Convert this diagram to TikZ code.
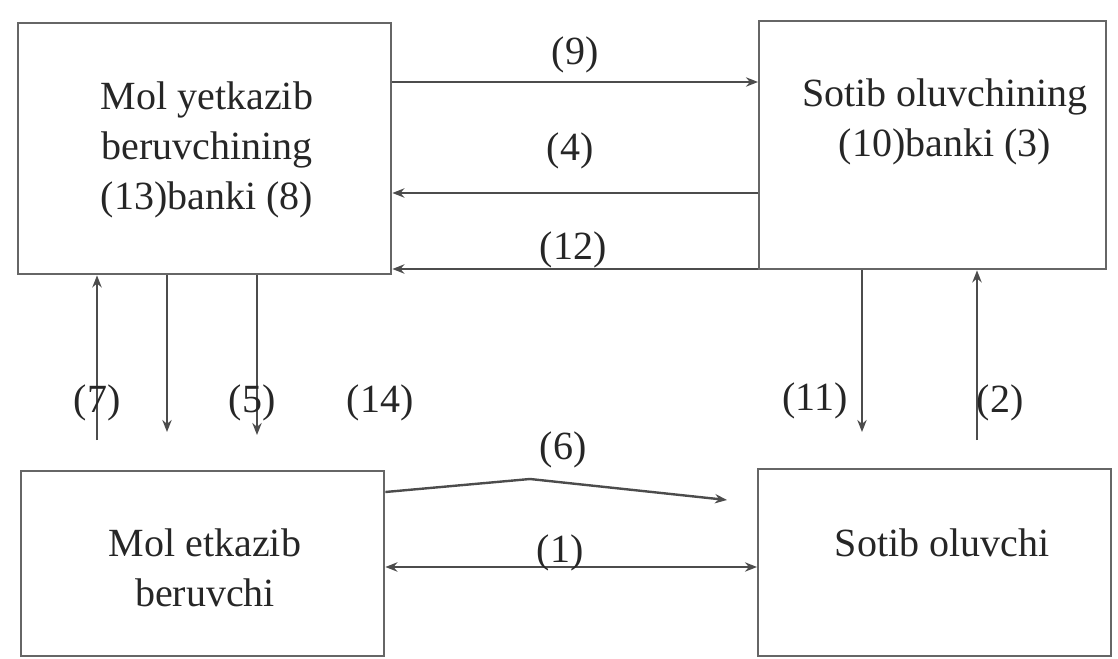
\documentclass[tikz,border=0pt]{standalone}
\usepackage{fontspec}
\setmainfont{Liberation Serif}
\usetikzlibrary{arrows.meta}
\begin{document}
\begin{tikzpicture}[x=0.75pt,y=-0.75pt,
 box/.style={draw=black!60, line width=1.8pt, inner sep=0pt, anchor=north west},
 txt/.style={font=\fontsize{30}{37.5}\selectfont, text=black!85, align=center, inner sep=0pt},
 lbl/.style={font=\fontsize{30}{37.5}\selectfont, text=black!85, inner sep=0pt},
 arr/.style={draw=black!70, line width=1.8pt, -{Stealth[length=9pt,width=7pt]}},
 darr/.style={draw=black!70, line width=1.8pt, {Stealth[length=9pt,width=7pt]}-{Stealth[length=9pt,width=7pt]}}]
\useasboundingbox (0,0) rectangle (1118,659);
% boxes
\node[box, minimum width=279.75pt, minimum height=188.25pt] (tl) at (17,22) {};
\node[box, minimum width=260.25pt, minimum height=186pt] (tr) at (758,20) {};
\node[box, minimum width=272.25pt, minimum height=138.75pt] (bl) at (20,470) {};
\node[box, minimum width=264.75pt, minimum height=140.25pt] (br) at (757,468) {};
% box texts
\node[txt] (tltxt) at (207,150) {Mol yetkazib\\beruvchining\\(13)banki (8)};
\node[txt] (trtxt) at (945,122) {Sotib oluvchining\\(10)banki (3)};
\node[txt] (bltxt) at (205,568) {Mol etkazib\\beruvchi};
\node[txt] (brtxt) at (942,543) {Sotib oluvchi};
% free ends
\coordinate (c7) at (97,440);
\coordinate (cm) at (167,432);
\coordinate (c5) at (257,435);
\coordinate (c11) at (862,432);
\coordinate (c2) at (977,440);
\coordinate (c6a) at (530,479);
\coordinate (c6b) at (727,500);
% horizontal top connectors
\draw[arr] (tl.east |- 0,82) -- (tr.west |- 0,82);
\draw[arr] (tr.west |- 0,193) -- (tl.east |- 0,193);
\draw[arr] (tr.west |- 0,269) -- (tl.east |- 0,269);
% verticals
\draw[arr] (c7) -- (c7 |- tl.south);
\draw[arr] (cm |- tl.south) -- (cm);
\draw[arr] (c5 |- tl.south) -- (c5);
\draw[arr] (c11 |- tr.south) -- (c11);
\draw[arr] (c2) -- (c2 |- tr.south);
% bottom connectors
\draw[arr] (bl.east |- 0,492) -- (c6a) -- (c6b);
\draw[darr] (bl.east |- 0,567) -- (br.west |- 0,567);
% labels
\node[lbl] (l9) at (575,55) {(9)};
\node[lbl] (l4) at (570,151) {(4)};
\node[lbl] (l12) at (573,250) {(12)};
\node[lbl] (l7) at (97,403) {(7)};
\node[lbl] (l5) at (252,403) {(5)};
\node[lbl] (l14) at (380,403) {(14)};
\node[lbl] (l11) at (815,401) {(11)};
\node[lbl] (l2) at (1000,403) {(2)};
\node[lbl] (l6) at (563,450) {(6)};
\node[lbl] (l1) at (560,553) {(1)};
\end{tikzpicture}
\end{document}
